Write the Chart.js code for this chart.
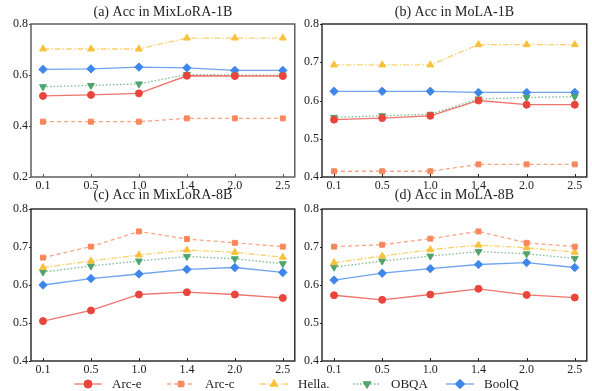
<!DOCTYPE html>
<html>
<head>
<meta charset="utf-8">
<script src="https://cdn.jsdelivr.net/npm/chart.js@4"></script>
<style>
  html, body { margin: 0; padding: 0; background: #fff; }
  body { width: 592px; height: 391px; position: relative; overflow: hidden; font-family: "Liberation Serif", "DejaVu Serif", serif; }
  .pane { position: absolute; }
  .leg { position: absolute; top: 375px; height: 18px; display: flex; align-items: center; font-size: 13px; color: #222; white-space: nowrap; }
  .leg canvas { margin-right: 10px; }
</style>
</head>
<body>
<div class="pane" style="left:0;top:0;width:300px;height:193px"><canvas id="ca"></canvas></div>
<div class="pane" style="left:291px;top:0;width:301px;height:193px"><canvas id="cb"></canvas></div>
<div class="pane" style="left:0;top:183px;width:300px;height:193px"><canvas id="cc"></canvas></div>
<div class="pane" style="left:291px;top:183px;width:301px;height:193px"><canvas id="cd"></canvas></div>
<div id="legend"></div>
<script>
// ---------- data ----------
const xLabels = ["0.1", "0.5", "1.0", "1.4", "2.0", "2.5"];
const seriesNames = ["Arc-e", "Arc-c", "Hella.", "OBQA", "BoolQ"];

const titleA = "(a) Acc in MixLoRA-1B";
const arcE_A  = [0.518, 0.522, 0.528, 0.597, 0.596, 0.596];
const arcC_A  = [0.417, 0.417, 0.417, 0.430, 0.430, 0.430];
const hella_A = [0.702, 0.702, 0.702, 0.745, 0.745, 0.745];
const obqa_A  = [0.554, 0.559, 0.565, 0.602, 0.600, 0.599];
const boolq_A = [0.622, 0.624, 0.631, 0.628, 0.618, 0.618];
const yTicksA = [0.2, 0.4, 0.6, 0.8];

const titleB = "(b) Acc in MoLA-1B";
const arcE_B  = [0.550, 0.554, 0.560, 0.600, 0.589, 0.589];
const arcC_B  = [0.415, 0.415, 0.415, 0.433, 0.433, 0.433];
const hella_B = [0.693, 0.693, 0.693, 0.746, 0.746, 0.746];
const obqa_B  = [0.556, 0.560, 0.564, 0.604, 0.608, 0.610];
const boolq_B = [0.624, 0.624, 0.624, 0.621, 0.621, 0.621];
const yTicksB = [0.4, 0.5, 0.6, 0.7, 0.8];

const titleC = "(c) Acc in MixLoRA-8B";
const arcE_C  = [0.505, 0.533, 0.575, 0.581, 0.575, 0.566];
const arcC_C  = [0.672, 0.701, 0.741, 0.721, 0.711, 0.701];
const hella_C = [0.646, 0.663, 0.679, 0.692, 0.686, 0.673];
const obqa_C  = [0.634, 0.650, 0.663, 0.675, 0.669, 0.656];
const boolq_C = [0.600, 0.617, 0.629, 0.641, 0.646, 0.633];
const yTicksC = [0.4, 0.5, 0.6, 0.7, 0.8];

const titleD = "(d) Acc in MoLA-8B";
const arcE_D  = [0.573, 0.561, 0.575, 0.590, 0.574, 0.567];
const arcC_D  = [0.701, 0.706, 0.722, 0.741, 0.711, 0.701];
const hella_D = [0.659, 0.676, 0.693, 0.705, 0.698, 0.686];
const obqa_D  = [0.647, 0.663, 0.676, 0.688, 0.682, 0.670];
const boolq_D = [0.613, 0.631, 0.643, 0.654, 0.659, 0.646];
const yTicksD = [0.4, 0.5, 0.6, 0.7, 0.8];

// ---------- styles ----------
const colors = ["#e8453c", "#f7875c", "#f8c13c", "#50a46c", "#3f86ea"];
const lineColors = ["rgba(232,69,60,0.75)", "rgba(247,135,92,0.75)", "rgba(248,193,60,0.75)", "rgba(80,164,108,0.75)", "rgba(63,134,234,0.75)"];
const dashes = [[], [4, 3], [6, 2, 1.5, 2], [1.5, 2], []];
const markers = ["circle", "rect", "triangle", "triangle", "rectRot"];
const rotations = [0, 0, 0, 180, 0];
const radii = [3.5, 3.5, 4, 4, 4.2];
const FONT = "'Liberation Serif', 'DejaVu Serif', serif";

const frameAndTicks = {
  id: 'frameAndTicks',
  afterDraw(chart, args, opts) {
    const { ctx, chartArea: a } = chart;
    ctx.save();
    ctx.strokeStyle = opts.color || '#222';
    ctx.lineWidth = 1.4;
    ctx.strokeRect(a.left, a.top, a.right - a.left, a.bottom - a.top);
    ctx.lineWidth = 1;
    const xs = chart.scales.x;
    xs.ticks.forEach(t => {
      const px = Math.round(xs.getPixelForValue(t.value)) + 0.5;
      ctx.beginPath(); ctx.moveTo(px, a.bottom); ctx.lineTo(px, a.bottom - 3); ctx.stroke();
    });
    const ys = chart.scales.y;
    ys.ticks.forEach(t => {
      const py = Math.round(ys.getPixelForValue(t.value)) + 0.5;
      ctx.beginPath(); ctx.moveTo(a.left, py); ctx.lineTo(a.left - 2, py); ctx.stroke();
    });
    ctx.restore();
  }
};

function makeChart(id, title, series, yTicks, titlePad, xAxisH, frameColor) {
  const datasets = series.map((vals, i) => ({
    label: seriesNames[i],
    data: vals.map((v, k) => ({ x: k, y: v })),
    borderColor: lineColors[i],
    backgroundColor: colors[i],
    pointBackgroundColor: colors[i],
    pointBorderColor: colors[i],
    pointStyle: markers[i],
    rotation: rotations[i],
    pointRadius: radii[i],
    pointBorderWidth: 1,
    borderWidth: 1.3,
    borderDash: dashes[i],
    tension: 0,
    fill: false
  }));
  return new Chart(document.getElementById(id), {
    type: 'line',
    data: { datasets },
    options: {
      responsive: true,
      maintainAspectRatio: false,
      animation: false,
      events: [],
      layout: { padding: { left: 0, right: 4, top: 0, bottom: 0 } },
      plugins: {
        legend: { display: false },
        tooltip: { enabled: false },
        title: {
          display: true, text: title, color: '#222', fullSize: false,
          font: { family: FONT, size: 14, weight: 'normal', lineHeight: 1.2 },
          padding: titlePad
        },
        frameAndTicks: { color: frameColor }
      },
      scales: {
        x: {
          type: 'linear', min: -0.25, max: 5.25,
          afterBuildTicks: s => { s.ticks = xLabels.map((_, k) => ({ value: k })); },
          afterFit: s => { s.height = xAxisH; },
          grid: { display: false, drawTicks: false },
          border: { display: false },
          ticks: {
            padding: 2, color: '#222', maxRotation: 0, autoSkip: false,
            font: { family: FONT, size: 12 },
            callback: v => xLabels[v]
          }
        },
        y: {
          min: yTicks[0], max: yTicks[yTicks.length - 1],
          afterBuildTicks: s => { s.ticks = yTicks.map(v => ({ value: v })); },
          afterFit: s => { s.width = 31; },
          grid: { display: false, drawTicks: false },
          border: { display: false },
          ticks: {
            padding: 3, color: '#222',
            font: { family: FONT, size: 12 },
            callback: v => Number(v).toFixed(1)
          }
        }
      }
    },
    plugins: [frameAndTicks]
  });
}

const topPad = { top: 4, bottom: 3.2 };
const botPad = { top: 4, bottom: 5.2 };
makeChart('ca', titleA, [arcE_A, arcC_A, hella_A, obqa_A, boolq_A], yTicksA, topPad, 16, '#555');
makeChart('cb', titleB, [arcE_B, arcC_B, hella_B, obqa_B, boolq_B], yTicksB, topPad, 16, '#222');
makeChart('cc', titleC, [arcE_C, arcC_C, hella_C, obqa_C, boolq_C], yTicksC, botPad, 15, '#222');
makeChart('cd', titleD, [arcE_D, arcC_D, hella_D, obqa_D, boolq_D], yTicksD, botPad, 15, '#222');

// ---------- legend ----------
const legendLefts = [74, 167, 260, 353, 446];
const legendEl = document.getElementById('legend');
seriesNames.forEach((name, i) => {
  const item = document.createElement('div');
  item.className = 'leg';
  item.style.left = legendLefts[i] + 'px';
  const c = document.createElement('canvas');
  c.width = 28; c.height = 18;
  c.style.width = '28px'; c.style.height = '18px';
  const ctx = c.getContext('2d');
  ctx.strokeStyle = lineColors[i];
  ctx.lineWidth = 1.3;
  ctx.setLineDash(dashes[i]);
  ctx.beginPath(); ctx.moveTo(0, 9); ctx.lineTo(28, 9); ctx.stroke();
  ctx.setLineDash([]);
  ctx.fillStyle = colors[i]; ctx.strokeStyle = colors[i]; ctx.lineWidth = 1;
  Chart.helpers.drawPoint(ctx, { pointStyle: markers[i], radius: radii[i] + 0.5, rotation: rotations[i], borderWidth: 1 }, 14, 9);
  item.appendChild(c);
  const sp = document.createElement('span');
  sp.textContent = name;
  item.appendChild(sp);
  legendEl.appendChild(item);
});
</script>
</body>
</html>
